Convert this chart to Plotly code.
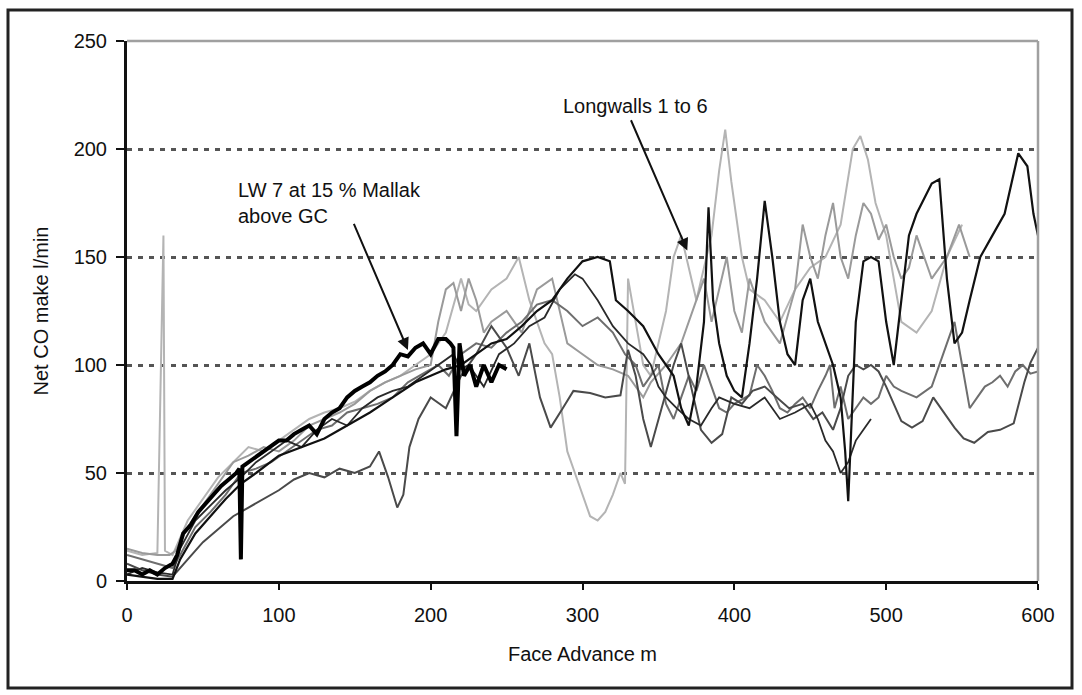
import plotly.graph_objects as go

# ---------------- data ----------------
lw7_x = [0, 5, 10, 15, 20, 25, 30, 33, 37, 42, 47, 52, 57, 62, 67, 72, 74, 75, 76, 80, 85, 90, 95, 100,
         105, 110, 115, 120, 125, 130, 135, 140, 145, 150, 155, 160, 165, 170, 175, 180, 185, 190, 195,
         200, 205, 210, 213, 215, 217, 219, 222, 226, 230, 235, 240, 245, 250]
lw7_y = [5, 5, 3, 5, 3, 6, 8, 12, 22, 26, 32, 36, 40, 44, 47, 50, 52, 10, 53, 55, 58, 60, 63, 65,
         65, 68, 70, 72, 68, 75, 78, 80, 85, 88, 90, 92, 95, 97, 100, 105, 104, 108, 110,
         105, 112, 112, 110, 108, 67, 110, 95, 100, 90, 100, 92, 100, 98]

l1_x = [0, 10, 20, 30, 35, 45, 55, 65, 75, 85, 100, 115, 130, 145, 160, 175, 190, 200, 210, 220, 230,
        240, 250, 260, 270, 280, 290, 300, 310, 318, 322, 330, 340, 350, 360, 365, 370, 375, 380, 383,
        386, 390, 395, 400, 405, 410, 415, 420, 425, 430, 435, 440, 445, 450, 455, 460, 465, 470, 473,
        475, 478, 480, 485, 490, 495, 500, 505, 510, 515, 520, 530, 535, 540, 545, 550, 555, 562, 570,
        578, 587, 593, 597, 600]
l1_y = [3, 2, 1, 1, 10, 22, 30, 38, 45, 50, 58, 62, 66, 72, 78, 85, 92, 95, 98, 100, 105,
        110, 112, 118, 125, 130, 140, 148, 150, 148, 130, 125, 118, 105, 95, 80, 72, 90, 120, 173,
        130, 110, 95, 88, 85, 110, 140, 176, 150, 120, 105, 100, 130, 140, 120, 110, 100, 85, 60,
        37, 90, 120, 148, 150, 148, 120, 100, 130, 160, 170, 184, 186, 140, 110, 115, 130, 150, 160,
        170, 198, 192, 170, 160]

l2_x = [0, 10, 20, 30, 40, 50, 60, 70, 80, 90, 100, 110, 120, 130, 140, 150, 160, 166, 172, 178, 182,
        186, 192, 200, 210, 220, 230, 240, 250, 258, 265, 272, 279, 287, 294, 305, 315, 325, 330, 335,
        340, 345, 352, 360, 365, 370, 378, 385, 392, 398, 405, 412, 420, 428, 436, 445, 452, 458, 465,
        470, 475, 480, 485, 490, 495, 500, 505, 510, 517, 524, 531, 538, 545, 551, 558, 567, 575, 584,
        591, 595, 600]
l2_y = [8, 5, 3, 2, 10, 18, 24, 30, 34, 38, 42, 47, 50, 48, 52, 50, 53, 60, 48, 34, 40,
        62, 75, 85, 80, 95, 105, 118, 108, 95, 110, 85, 71, 80, 88, 87, 85, 86, 107, 95,
        75, 62, 80, 100, 110, 95, 70, 64, 68, 85, 82, 88, 90, 85, 80, 82, 75, 78, 70,
        80, 95, 100, 98, 100, 97, 90, 82, 74, 71, 74, 85, 78, 71, 66, 64, 69, 70, 73,
        92, 101, 108]

l3_x = [0, 10, 20, 30, 35, 45, 55, 65, 75, 85, 95, 105, 115, 125, 135, 145, 155, 165, 175, 185, 195,
        205, 212, 220, 230, 240, 250, 260, 270, 280, 290, 300, 310, 320, 328, 335, 340, 350, 355, 360,
        365, 370, 375, 380, 385, 390, 395, 400, 410, 415, 420, 425, 430, 435, 440, 445, 450, 455, 460,
        463, 466, 470, 475, 480, 485, 490, 495, 500, 505, 510, 520, 530, 535, 540, 545, 550, 555, 560,
        565, 570, 575, 580, 585, 590, 595, 600]
l3_y = [12, 10, 8, 6, 12, 25, 32, 40, 50, 52, 55, 60, 65, 70, 72, 78, 80, 82, 85, 92, 96,
        100, 95, 105, 110, 108, 115, 120, 128, 130, 125, 118, 122, 115, 105, 100, 90, 100, 82, 75,
        85, 95, 88, 100, 90, 80, 78, 82, 86, 100, 95, 88, 80, 78, 82, 85, 80, 88, 95,
        100, 80, 90, 75, 80, 85, 82, 85, 95, 90, 88, 85, 90, 100, 110, 120, 100, 80, 85,
        90, 92, 95, 90, 97, 100, 96, 97]

l4_x = [0, 10, 20, 28, 32, 40, 50, 60, 70, 80, 90, 100, 110, 120, 130, 140, 150, 160, 170, 180, 190,
        200, 205, 210, 215, 220, 225, 230, 235, 240, 250, 260, 270, 280, 285, 290, 300, 310, 320, 330,
        340, 345, 355, 365, 375, 380, 385, 390, 395, 400, 405, 410, 415, 420, 430, 440, 445, 450, 455,
        460, 465, 470, 475, 480, 485, 490, 495, 500, 505, 510, 515, 520, 525, 530, 540, 548, 555]
l4_y = [15, 13, 12, 12, 14, 25, 35, 45, 55, 58, 62, 60, 65, 72, 75, 78, 82, 88, 92, 95, 98,
        100, 120, 135, 138, 125, 140, 130, 115, 120, 125, 115, 135, 140, 125, 110, 105, 100, 98, 95,
        85, 92, 100, 110, 130, 140, 120, 135, 150, 125, 115, 140, 130, 120, 110, 135, 165, 150, 140,
        160, 175, 150, 140, 160, 175, 170, 158, 165, 150, 140, 145, 160, 150, 140, 150, 165, 150]

l5_x = [0, 10, 20, 24, 25, 30, 40, 50, 60, 70, 80, 90, 100, 110, 120, 130, 140, 150, 160, 170, 180,
        190, 200, 210, 215, 220, 225, 230, 240, 250, 258, 265, 275, 280, 285, 290, 295, 300, 305, 310,
        315, 320, 325, 328, 330, 335, 340, 345, 350, 355, 360, 365, 370, 375, 380, 385, 390, 394, 398,
        405, 410, 420, 430, 440, 450, 460, 470, 478, 483, 488, 493, 500, 505, 510, 520, 530, 540, 550]
l5_y = [14, 12, 13, 160, 14, 12, 28, 38, 48, 55, 62, 60, 65, 70, 75, 78, 80, 83, 88, 92, 95,
        100, 105, 115, 128, 140, 128, 125, 135, 140, 150, 130, 110, 105, 85, 60, 50, 40, 30, 28,
        32, 40, 50, 45, 140, 120, 100, 95, 110, 125, 150, 160, 145, 130, 145, 160, 190, 209, 185,
        150, 135, 130, 120, 135, 145, 150, 165, 200, 206, 195, 175, 160, 140, 120, 115, 125, 150, 165]

l6_x = [0, 10, 20, 30, 35, 45, 55, 65, 75, 85, 95, 105, 115, 125, 135, 145, 155, 165, 175, 185, 195,
        205, 215, 220, 225, 235, 245, 255, 265, 275, 285, 295, 300, 310, 320, 330, 340, 345, 350, 355,
        362, 370, 378, 385, 390, 400, 410, 420, 430, 440, 450, 455, 460, 465, 470, 475, 480, 485, 490]
l6_y = [3, 6, 4, 3, 15, 28, 35, 42, 48, 55, 60, 65, 62, 70, 75, 72, 80, 85, 88, 90, 95,
        100, 105, 98, 100, 90, 105, 110, 118, 122, 135, 142, 140, 130, 118, 110, 105, 100, 90, 85,
        80, 75, 72, 80, 85, 82, 80, 85, 75, 78, 82, 75, 65, 60, 50, 55, 65, 70, 75]

x_ticks = [0, 100, 200, 300, 400, 500, 600]
y_ticks = [0, 50, 100, 150, 200, 250]

# ---------------- figure ----------------
W, H = 1082, 695
L, R, T, B = 127, 1038, 41, 581  # plot area in px
FONT = "Liberation Sans, Arial, sans-serif"

def px2paper(px, py):
    return (px - L) / (R - L), (B - py) / (B - T)

fig = go.Figure()

series = [
    (l5_x, l5_y, "#b4b4b4", 2.0),
    (l4_x, l4_y, "#9a9a9a", 2.0),
    (l3_x, l3_y, "#6e6e6e", 2.0),
    (l2_x, l2_y, "#4a4a4a", 2.0),
    (l6_x, l6_y, "#2a2a2a", 1.8),
    (l1_x, l1_y, "#111111", 2.2),
    (lw7_x, lw7_y, "#000000", 4.0),
]
for xs, ys, col, w in series:
    fig.add_trace(go.Scatter(x=xs, y=ys, mode="lines",
                             line=dict(color=col, width=w), showlegend=False,
                             hoverinfo="skip"))

shapes = []
# outer border
x0, y0 = px2paper(8, 688)
x1, y1 = px2paper(1072, 10)
shapes.append(dict(type="rect", xref="paper", yref="paper", x0=x0, y0=y0, x1=x1, y1=y1,
                   line=dict(color="#222222", width=3), layer="below"))
# top and right frame of the plot area (gray)
shapes.append(dict(type="line", xref="paper", yref="paper", x0=0, y0=1, x1=1, y1=1,
                   line=dict(color="#a0a0a0", width=2.5)))
shapes.append(dict(type="line", xref="paper", yref="paper", x0=1, y0=0, x1=1, y1=1,
                   line=dict(color="#a0a0a0", width=2.5)))

annotations = [
    dict(x=335, y=220, xref="x", yref="y", text="Longwalls 1 to 6", showarrow=False,
         font=dict(family=FONT, size=20, color="#111")),
    dict(x=369, y=153, ax=331.5, ay=214, xref="x", yref="y", axref="x", ayref="y",
         text="", showarrow=True, arrowhead=2, arrowsize=1.2, arrowwidth=2, arrowcolor="#111"),
    dict(x=72, y=175, xref="x", yref="y", xanchor="left", yanchor="middle", align="left",
         text="LW 7 at 15 % Mallak<br>above GC", showarrow=False,
         font=dict(family=FONT, size=20, color="#111")),
    dict(x=185, y=107, ax=149, ay=166, xref="x", yref="y", axref="x", ayref="y",
         text="", showarrow=True, arrowhead=2, arrowsize=1.2, arrowwidth=2, arrowcolor="#111"),
]

fig.update_layout(
    width=W, height=H,
    margin=dict(l=L, r=W - R, t=T, b=H - B),
    paper_bgcolor="white", plot_bgcolor="white",
    font=dict(family=FONT, size=20, color="#111"),
    shapes=shapes, annotations=annotations,
    xaxis=dict(range=[0, 600], tickvals=x_ticks, ticks="outside", ticklen=6, tickwidth=2,
               tickcolor="#111", showline=True, linecolor="#111", linewidth=3,
               showgrid=False, zeroline=False, ticklabelstandoff=8,
               title=dict(text="Face Advance m", font=dict(size=20), standoff=22),
               tickfont=dict(size=20)),
    yaxis=dict(range=[0, 250], tickvals=y_ticks, ticks="outside", ticklen=8, tickwidth=2,
               tickcolor="#111", showline=True, linecolor="#111", linewidth=3,
               showgrid=True, gridcolor="#555555", gridwidth=3, griddash="5px,6px",
               zeroline=False, ticklabelstandoff=5,
               title=dict(text="Net CO make l/min", font=dict(size=20), standoff=20),
               tickfont=dict(size=20)),
)

fig.write_html("out.html", config={"displayModeBar": False},
               post_script="document.body.style.margin='0';")
